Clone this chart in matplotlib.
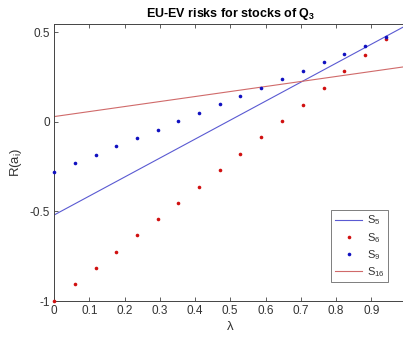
import matplotlib
matplotlib.use("Agg")
import matplotlib.pyplot as plt

plt.rcParams["font.family"] = ["Liberation Sans", "DejaVu Sans"]
plt.rcParams["mathtext.fontset"] = "custom"
plt.rcParams["mathtext.rm"] = "Liberation Sans"
plt.rcParams["mathtext.it"] = "Liberation Sans:italic"
plt.rcParams["mathtext.bf"] = "Liberation Sans:bold"
plt.rcParams["mathtext.default"] = "regular"

# lambda grid (k/17) and risk values per stock
lam = [0.000, 0.059, 0.118, 0.176, 0.235, 0.294, 0.353, 0.412, 0.471,
       0.529, 0.588, 0.647, 0.706, 0.765, 0.824, 0.882, 0.941]
s6 = [-1.000, -0.906, -0.817, -0.726, -0.633, -0.542, -0.452, -0.361, -0.270,
      -0.177, -0.086, 0.004, 0.095, 0.190, 0.282, 0.373, 0.466]
s9 = [-0.278, -0.231, -0.183, -0.136, -0.090, -0.043, 0.004, 0.052, 0.099,
      0.145, 0.190, 0.238, 0.287, 0.334, 0.381, 0.427, 0.476]

# linear risks
lam_line = [0.0, 1.0]
s5 = [-0.52, 0.54]
s16 = [0.03, 0.31]

xticks = [0, 0.1, 0.2, 0.3, 0.4, 0.5, 0.6, 0.7, 0.8, 0.9]
xticklabels = ["0", "0.1", "0.2", "0.3", "0.4", "0.5", "0.6", "0.7", "0.8", "0.9"]
yticks = [-1, -0.5, 0, 0.5]
yticklabels = ["-1", "-0.5", "0", "0.5"]

fig = plt.figure(figsize=(4.03, 3.38), dpi=100)
ax = fig.add_axes([54 / 403, 37 / 338, 352.5 / 403, 277.5 / 338])

ax.plot(lam_line, s5, color="#5a5ad2", linewidth=0.8, label="S$_5$")
ax.plot(lam, s6, linestyle="none", marker="o", markersize=2.6,
        color="#d01010", markeredgewidth=0, label="S$_6$", clip_on=False,
        zorder=3)
ax.plot(lam, s9, linestyle="none", marker="o", markersize=2.6,
        color="#1010c0", markeredgewidth=0, label="S$_9$", clip_on=False,
        zorder=3)
ax.plot(lam_line, s16, color="#d06a6a", linewidth=0.8, label="S$_{16}$")

ax.set_xlim(0, 1)
ax.set_ylim(-1, 0.55)
ax.set_xticks(xticks)
ax.set_xticklabels(xticklabels)
ax.set_yticks(yticks)
ax.set_yticklabels(yticklabels)

for sp in ax.spines.values():
    sp.set_color("#444444")
    sp.set_linewidth(0.7)
ax.tick_params(direction="in", length=3, width=0.6, colors="#444444",
               labelcolor="#333333", labelsize=8.5, top=True, right=True,
               pad=3)

ax.set_title("EU-EV risks for stocks of Q$_\\mathbf{3}$", fontsize=9,
             fontweight="bold", pad=5)
ax.set_xlabel("λ", fontsize=9.5, color="#333333", labelpad=3)
ax.set_ylabel("R(a$_i$)", fontsize=9.5, color="#333333", labelpad=4)

leg = ax.legend(loc="lower right", bbox_to_anchor=(0.9475, 0.068),
                fontsize=8, frameon=True, fancybox=False,
                handlelength=2.5, handletextpad=0.4, labelspacing=0.3,
                borderpad=0.3, borderaxespad=0)
leg.get_frame().set_edgecolor("#444444")
leg.get_frame().set_linewidth(0.6)
for t in leg.get_texts():
    t.set_color("#333333")

fig.savefig("out.png", dpi=100)
